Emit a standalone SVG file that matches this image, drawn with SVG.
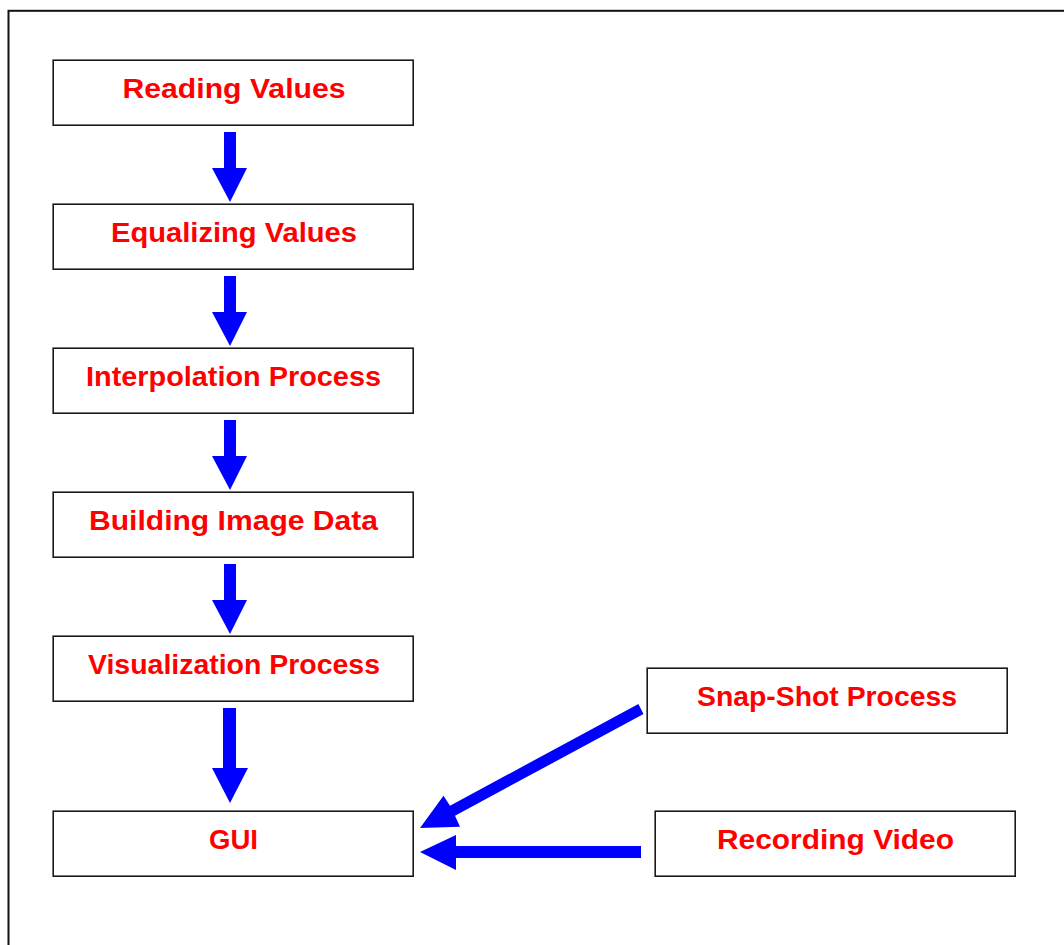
<svg xmlns="http://www.w3.org/2000/svg" width="1064" height="945" viewBox="0 0 1064 945">
  <style>
    .box { fill: #ffffff; stroke: #1a1a1a; stroke-width: 1.6; }
    .lbl { font-family: "Liberation Sans", Arial, sans-serif; font-weight: bold; font-size: 27px; fill: #ff0000; text-anchor: middle; }
    .arrow { fill: #0000ff; stroke: none; }
  </style>
  <rect width="1064" height="945" fill="#ffffff"/>
  <!-- outer frame (open to the right and bottom) -->
  <rect x="8.5" y="10.8" width="1100" height="1000" fill="none" stroke="#111111" stroke-width="2"/>

  <g id="reading-values">
    <rect class="box" x="53.2" y="60.2" width="360" height="65"/>
    <text class="lbl" x="234" y="98" textLength="223" lengthAdjust="spacingAndGlyphs">Reading Values</text>
  </g>
  <g id="equalizing-values">
    <rect class="box" x="53.2" y="204.2" width="360" height="65"/>
    <text class="lbl" x="234" y="242" textLength="246" lengthAdjust="spacingAndGlyphs">Equalizing Values</text>
  </g>
  <g id="interpolation-process">
    <rect class="box" x="53.2" y="348.2" width="360" height="65"/>
    <text class="lbl" x="233.5" y="386" textLength="295" lengthAdjust="spacingAndGlyphs">Interpolation Process</text>
  </g>
  <g id="building-image-data">
    <rect class="box" x="53.2" y="492.2" width="360" height="65"/>
    <text class="lbl" x="233.5" y="530" textLength="289" lengthAdjust="spacingAndGlyphs">Building Image Data</text>
  </g>
  <g id="visualization-process">
    <rect class="box" x="53.2" y="636.2" width="360" height="65"/>
    <text class="lbl" x="234" y="674" textLength="292" lengthAdjust="spacingAndGlyphs">Visualization Process</text>
  </g>
  <g id="gui">
    <rect class="box" x="53.2" y="811.2" width="360" height="65"/>
    <text class="lbl" x="233.5" y="849" textLength="49" lengthAdjust="spacingAndGlyphs">GUI</text>
  </g>
  <g id="snap-shot-process">
    <rect class="box" x="647.2" y="668.2" width="360" height="65"/>
    <text class="lbl" x="827" y="706" textLength="260" lengthAdjust="spacingAndGlyphs">Snap-Shot Process</text>
  </g>
  <g id="recording-video">
    <rect class="box" x="655.2" y="811.2" width="360" height="65"/>
    <text class="lbl" x="835.5" y="849" textLength="237" lengthAdjust="spacingAndGlyphs">Recording Video</text>
  </g>

  <g id="connectors">
    <!-- downward flow arrows -->
    <polygon class="arrow" points="224,132 236,132 236,168 247,168 230,202 212,168 224,168"/>
    <polygon class="arrow" points="224,276 236,276 236,312 247,312 230,346 212,312 224,312"/>
    <polygon class="arrow" points="224,420 236,420 236,456 247,456 230,490 212,456 224,456"/>
    <polygon class="arrow" points="224,564 236,564 236,600 247,600 230,634 212,600 224,600"/>
    <polygon class="arrow" points="223,708 236,708 236,768 248,768 230,803 212,768 223,768"/>
    <!-- Snap-Shot Process to GUI -->
    <polygon class="arrow" points="638.4,704 643.5,714 455,815.7 460,826.7 420,828 443.5,795.7 450,805.7"/>
    <!-- Recording Video to GUI -->
    <polygon class="arrow" points="641,846 641,858 456,858 456,870 420,852 456,835 456,846"/>
  </g>
</svg>
